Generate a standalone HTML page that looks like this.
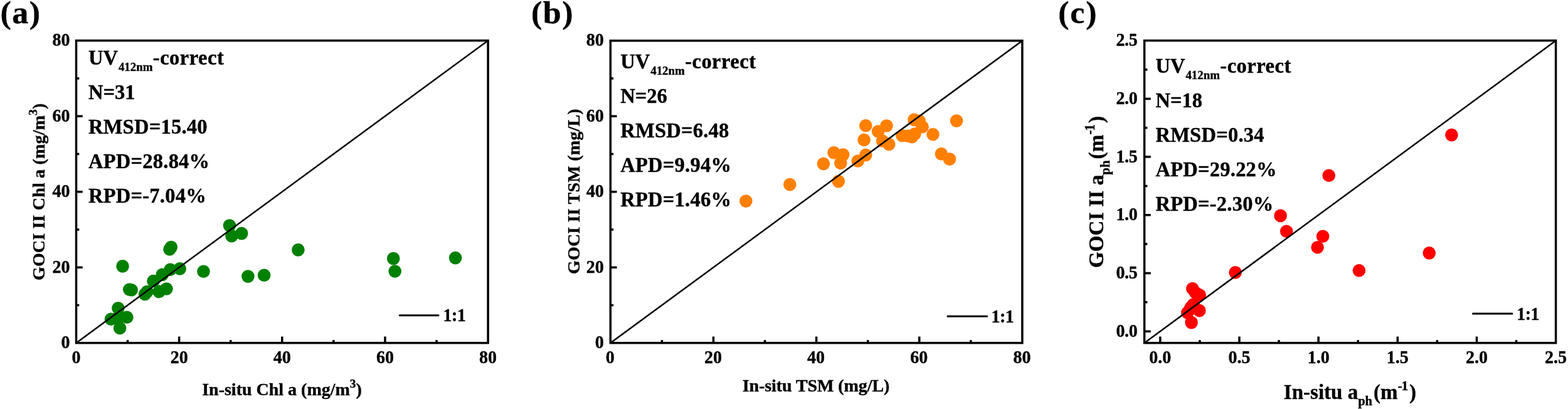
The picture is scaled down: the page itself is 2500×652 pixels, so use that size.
<!DOCTYPE html>
<html lang="en">
<head>
<meta charset="utf-8">
<title>GOCI II validation scatter plots</title>
<style>
html,body{margin:0;padding:0;background:#fff;}
body{width:2500px;height:652px;overflow:hidden;}
svg{display:block;}
text{font-family:"Liberation Serif", "Times New Roman", Times, serif;font-weight:bold;fill:#000;stroke:#000;stroke-width:0.4px;stroke-linejoin:round;}
.plabel{font-size:52px;}
.tl{font-size:28px;}
.at{font-size:28px;}
.ann{font-size:32.5px;}
.sub{font-size:58%;}
.sup{font-size:69%;}
.frame{fill:none;stroke:#000;stroke-width:3.5;}
.tick{fill:none;stroke:#000;stroke-width:3.5;}
.one{stroke:#000;stroke-width:2.5;}
.leg{stroke:#000;stroke-width:3;stroke-linecap:round;}
</style>
</head>
<body>
<svg width="2500" height="652" viewBox="0 0 2500 652">
<rect width="2500" height="652" fill="#fff"/>

<g class="panel" id="panel-a">
<text class="plabel" transform="translate(0.5 37.2) scale(1 0.96)" style="letter-spacing:1.5px;">(a)</text>
<g fill="#008000">
<circle cx="195.5" cy="424.4" r="10.3"/>
<circle cx="272.8" cy="394" r="10.3"/>
<circle cx="270.5" cy="397.4" r="10.3"/>
<circle cx="366" cy="359.6" r="10.3"/>
<circle cx="369.4" cy="376.1" r="10.3"/>
<circle cx="385.2" cy="372.1" r="10.3"/>
<circle cx="324.5" cy="432.8" r="10.3"/>
<circle cx="395.4" cy="440.6" r="10.3"/>
<circle cx="421.1" cy="438.8" r="10.3"/>
<circle cx="286.7" cy="428.4" r="10.3"/>
<circle cx="271.5" cy="429.8" r="10.3"/>
<circle cx="258.7" cy="437.9" r="10.3"/>
<circle cx="244.5" cy="448" r="10.3"/>
<circle cx="265.4" cy="460.5" r="10.3"/>
<circle cx="253.6" cy="464.9" r="10.3"/>
<circle cx="231" cy="469" r="10.3"/>
<circle cx="234.5" cy="465" r="10.3"/>
<circle cx="206.3" cy="461.5" r="10.3"/>
<circle cx="209.7" cy="462.2" r="10.3"/>
<circle cx="188.4" cy="491.2" r="10.3"/>
<circle cx="189" cy="506" r="10.3"/>
<circle cx="177" cy="508.8" r="10.3"/>
<circle cx="202.3" cy="505.7" r="10.3"/>
<circle cx="191.1" cy="523" r="10.3"/>
<circle cx="475.4" cy="398.4" r="10.3"/>
<circle cx="627.2" cy="412.1" r="10.3"/>
<circle cx="629.7" cy="432.5" r="10.3"/>
<circle cx="726.1" cy="411.1" r="10.3"/>
</g>
<line class="one" x1="121.5" y1="546.7" x2="778.1" y2="64.7"/>
<rect class="frame" x="121.5" y="64.7" width="656.6" height="482"/>
<path class="tick" d="M285.65 546.7v-10.2M449.8 546.7v-10.2M613.95 546.7v-10.2M203.57 546.7v-4.8M367.73 546.7v-4.8M531.88 546.7v-4.8M696.02 546.7v-4.8M121.5 426.2h10.2M121.5 305.7h10.2M121.5 185.2h10.2M121.5 486.45h4.8M121.5 365.95h4.8M121.5 245.45h4.8M121.5 124.95h4.8"/>
<text class="tl" text-anchor="middle" transform="translate(121.5 578.8) scale(1 1.04)">0</text>
<text class="tl" text-anchor="middle" transform="translate(285.65 578.8) scale(1 1.04)">20</text>
<text class="tl" text-anchor="middle" transform="translate(449.8 578.8) scale(1 1.04)">40</text>
<text class="tl" text-anchor="middle" transform="translate(613.95 578.8) scale(1 1.04)">60</text>
<text class="tl" text-anchor="middle" transform="translate(778.1 578.8) scale(1 1.04)">80</text>
<text class="tl" text-anchor="end" transform="translate(111.5 555.4) scale(1 1.04)">0</text>
<text class="tl" text-anchor="end" transform="translate(111.5 434.9) scale(1 1.04)">20</text>
<text class="tl" text-anchor="end" transform="translate(111.5 314.4) scale(1 1.04)">40</text>
<text class="tl" text-anchor="end" transform="translate(111.5 193.9) scale(1 1.04)">60</text>
<text class="tl" text-anchor="end" transform="translate(111.5 73.4) scale(1 1.04)">80</text>
<text class="at" text-anchor="middle" transform="translate(449.5 629.8)" style="font-size:28px;">In-situ Chl a (mg/m<tspan class="sup" dy="-12">3</tspan><tspan dy="12">)</tspan></text>
<text class="at" text-anchor="middle" transform="translate(71.3 305.8) rotate(-90)" style="letter-spacing:0.18px;font-size:28px;">GOCI II Chl a (mg/m<tspan class="sup" dy="-12">3</tspan><tspan dy="12">)</tspan></text>
<text class="ann" transform="translate(141 102.5) scale(1 1.04)">UV<tspan class="sub" dx="1" dy="10">412nm</tspan><tspan dx="0.5" dy="-10" style="letter-spacing:0.5px">-correct</tspan></text>
<text class="ann" transform="translate(141 157.5) scale(1 1.04)">N=31</text>
<text class="ann" transform="translate(141 212.5) scale(1 1.04)" style="letter-spacing:0.25px;">RMSD=15.40</text>
<text class="ann" transform="translate(141 267.5) scale(1 1.04)" style="letter-spacing:0.25px;">APD=28.84%</text>
<text class="ann" transform="translate(141 322.5) scale(1 1.04)" style="letter-spacing:0.25px;">RPD=-7.04%</text>
<line class="leg" x1="637.2" y1="502.8" x2="699" y2="502.8"/>
<text class="tl" transform="translate(706.4 512.2) scale(1 1.04)" style="letter-spacing:-0.5px;">1:1</text>
</g>
<g class="panel" id="panel-b">
<text class="plabel" transform="translate(847 37.2) scale(1 0.96)" style="letter-spacing:1.5px;">(b)</text>
<g fill="#ff8000">
<circle cx="1189.3" cy="320.6" r="10.3"/>
<circle cx="1259.3" cy="294.1" r="10.3"/>
<circle cx="1336.8" cy="289.1" r="10.3"/>
<circle cx="1312.9" cy="261.1" r="10.3"/>
<circle cx="1340.3" cy="260" r="10.3"/>
<circle cx="1329.5" cy="243.4" r="10.3"/>
<circle cx="1344.1" cy="246.6" r="10.3"/>
<circle cx="1367.7" cy="256.8" r="10.3"/>
<circle cx="1380.3" cy="247.1" r="10.3"/>
<circle cx="1377.6" cy="223" r="10.3"/>
<circle cx="1380.3" cy="200.2" r="10.3"/>
<circle cx="1400.1" cy="209.5" r="10.3"/>
<circle cx="1413.5" cy="200.5" r="10.3"/>
<circle cx="1407.1" cy="224.7" r="10.3"/>
<circle cx="1417.3" cy="230" r="10.3"/>
<circle cx="1438.5" cy="216.3" r="10.3"/>
<circle cx="1447.3" cy="216.8" r="10.3"/>
<circle cx="1454" cy="218.3" r="10.3"/>
<circle cx="1458.4" cy="213.6" r="10.3"/>
<circle cx="1457.5" cy="190.9" r="10.3"/>
<circle cx="1465.7" cy="192.9" r="10.3"/>
<circle cx="1470.6" cy="202.3" r="10.3"/>
<circle cx="1487.5" cy="214.2" r="10.3"/>
<circle cx="1525.1" cy="192.6" r="10.3"/>
<circle cx="1500.9" cy="245.4" r="10.3"/>
<circle cx="1514" cy="253.6" r="10.3"/>
</g>
<line class="one" x1="973.3" y1="546.7" x2="1629.9" y2="64.9"/>
<rect class="frame" x="973.3" y="64.9" width="656.6" height="481.8"/>
<path class="tick" d="M1137.45 546.7v-10.2M1301.6 546.7v-10.2M1465.75 546.7v-10.2M1055.38 546.7v-4.8M1219.53 546.7v-4.8M1383.68 546.7v-4.8M1547.83 546.7v-4.8M973.3 426.25h10.2M973.3 305.8h10.2M973.3 185.35h10.2M973.3 486.48h4.8M973.3 366.03h4.8M973.3 245.57h4.8M973.3 125.12h4.8"/>
<text class="tl" text-anchor="middle" transform="translate(972.8 578.8) scale(1 1.04)">0</text>
<text class="tl" text-anchor="middle" transform="translate(1136.95 578.8) scale(1 1.04)">20</text>
<text class="tl" text-anchor="middle" transform="translate(1301.1 578.8) scale(1 1.04)">40</text>
<text class="tl" text-anchor="middle" transform="translate(1465.25 578.8) scale(1 1.04)">60</text>
<text class="tl" text-anchor="middle" transform="translate(1629.4 578.8) scale(1 1.04)">80</text>
<text class="tl" text-anchor="end" transform="translate(962.7 555.2) scale(1 1.04)">0</text>
<text class="tl" text-anchor="end" transform="translate(962.7 434.75) scale(1 1.04)">20</text>
<text class="tl" text-anchor="end" transform="translate(962.7 314.3) scale(1 1.04)">40</text>
<text class="tl" text-anchor="end" transform="translate(962.7 193.85) scale(1 1.04)">60</text>
<text class="tl" text-anchor="end" transform="translate(962.7 73.4) scale(1 1.04)">80</text>
<text class="at" text-anchor="middle" transform="translate(1301 624.4)" style="letter-spacing:-0.07px;font-size:28px;">In-situ TSM (mg/L)</text>
<text class="at" text-anchor="middle" transform="translate(923.5 305.1) rotate(-90)" style="letter-spacing:0.22px;font-size:28px;">GOCI II TSM (mg/L)</text>
<text class="ann" transform="translate(989.3 108.8) scale(1 1.04)">UV<tspan class="sub" dx="1" dy="10">412nm</tspan><tspan dx="0.5" dy="-10" style="letter-spacing:0.5px">-correct</tspan></text>
<text class="ann" transform="translate(989.3 163.8) scale(1 1.04)">N=26</text>
<text class="ann" transform="translate(989.3 218.8) scale(1 1.04)" style="letter-spacing:0.25px;">RMSD=6.48</text>
<text class="ann" transform="translate(989.3 273.8) scale(1 1.04)" style="letter-spacing:0.25px;">APD=9.94%</text>
<text class="ann" transform="translate(989.3 328.8) scale(1 1.04)" style="letter-spacing:0.25px;">RPD=1.46%</text>
<line class="leg" x1="1511" y1="504.3" x2="1573.6" y2="504.3"/>
<text class="tl" transform="translate(1580.4 514.1) scale(1 1.04)" style="letter-spacing:-0.5px;">1:1</text>
</g>
<g class="panel" id="panel-c">
<text class="plabel" transform="translate(1687.2 37) scale(1 0.96)" style="letter-spacing:1.8px;">(c)</text>
<g fill="#ff0000">
<circle cx="2314.4" cy="215.1" r="10.3"/>
<circle cx="2118.7" cy="279.8" r="10.3"/>
<circle cx="2041.6" cy="343.9" r="10.3"/>
<circle cx="2051.2" cy="368.8" r="10.3"/>
<circle cx="2109.1" cy="376.8" r="10.3"/>
<circle cx="2100.6" cy="394.3" r="10.3"/>
<circle cx="2278.7" cy="403.4" r="10.3"/>
<circle cx="2166.9" cy="431.2" r="10.3"/>
<circle cx="1969.6" cy="434.4" r="10.3"/>
<circle cx="1901.3" cy="460.1" r="10.3"/>
<circle cx="1912.7" cy="470.3" r="10.3"/>
<circle cx="1902.8" cy="485.2" r="10.3"/>
<circle cx="1899" cy="489.9" r="10.3"/>
<circle cx="1893.3" cy="498.5" r="10.3"/>
<circle cx="1912.3" cy="495.1" r="10.3"/>
<circle cx="1899.6" cy="514.1" r="10.3"/>
<circle cx="1906" cy="466.5" r="10.3"/>
<circle cx="1897" cy="493.5" r="10.3"/>
</g>
<line class="one" x1="1824.6" y1="546.7" x2="2480.6" y2="64.7"/>
<rect class="frame" x="1824.6" y="64.7" width="656" height="482"/>
<path class="tick" d="M1849.83 546.7v-10.2M1975.98 546.7v-10.2M2102.14 546.7v-10.2M2228.29 546.7v-10.2M2354.45 546.7v-10.2M1912.91 546.7v-4.8M2039.06 546.7v-4.8M2165.22 546.7v-4.8M2291.37 546.7v-4.8M2417.52 546.7v-4.8M1824.6 528.16h10.2M1824.6 435.47h10.2M1824.6 342.78h10.2M1824.6 250.08h10.2M1824.6 157.39h10.2M1824.6 481.82h4.8M1824.6 389.12h4.8M1824.6 296.43h4.8M1824.6 203.74h4.8M1824.6 111.05h4.8"/>
<text class="tl" text-anchor="middle" transform="translate(1849.83 578.8) scale(1 1.04)">0.0</text>
<text class="tl" text-anchor="middle" transform="translate(1975.98 578.8) scale(1 1.04)">0.5</text>
<text class="tl" text-anchor="middle" transform="translate(2102.14 578.8) scale(1 1.04)">1.0</text>
<text class="tl" text-anchor="middle" transform="translate(2228.29 578.8) scale(1 1.04)">1.5</text>
<text class="tl" text-anchor="middle" transform="translate(2354.45 578.8) scale(1 1.04)">2.0</text>
<text class="tl" text-anchor="middle" transform="translate(2480.6 578.8) scale(1 1.04)">2.5</text>
<text class="tl" text-anchor="end" transform="translate(1813.3 536.86) scale(1 1.04)" style="letter-spacing:-0.4px;">0.0</text>
<text class="tl" text-anchor="end" transform="translate(1813.3 444.17) scale(1 1.04)" style="letter-spacing:-0.4px;">0.5</text>
<text class="tl" text-anchor="end" transform="translate(1813.3 351.48) scale(1 1.04)" style="letter-spacing:-0.4px;">1.0</text>
<text class="tl" text-anchor="end" transform="translate(1813.3 258.78) scale(1 1.04)" style="letter-spacing:-0.4px;">1.5</text>
<text class="tl" text-anchor="end" transform="translate(1813.3 166.09) scale(1 1.04)" style="letter-spacing:-0.4px;">2.0</text>
<text class="tl" text-anchor="end" transform="translate(1813.3 73.4) scale(1 1.04)" style="letter-spacing:-0.4px;">2.5</text>
<text class="at" text-anchor="middle" transform="translate(2152.4 635.5)" style="font-size:33px;">In-situ a<tspan style="font-size:20.5px" dy="10">ph</tspan><tspan dx="2" dy="-10">(m</tspan><tspan style="font-size:21.5px;letter-spacing:-1.2px" dx="0" dy="-13.3">-1</tspan><tspan dx="3" dy="13.3">)</tspan></text>
<text class="at" text-anchor="middle" transform="translate(1759 306) rotate(-90) scale(1 1.03)" style="letter-spacing:0.2px;font-size:33px;">GOCI II a<tspan style="font-size:20.5px" dy="10">ph</tspan><tspan dx="2" dy="-10">(m</tspan><tspan style="font-size:21.5px;letter-spacing:-1.2px" dx="0" dy="-13.3">-1</tspan><tspan dx="3" dy="13.3">)</tspan></text>
<text class="ann" transform="translate(1842.5 115.6) scale(1 1.04)">UV<tspan class="sub" dx="1" dy="10">412nm</tspan><tspan dx="0.5" dy="-10" style="letter-spacing:0.5px">-correct</tspan></text>
<text class="ann" transform="translate(1842.5 170.6) scale(1 1.04)">N=18</text>
<text class="ann" transform="translate(1842.5 225.6) scale(1 1.04)" style="letter-spacing:0.25px;">RMSD=0.34</text>
<text class="ann" transform="translate(1842.5 280.6) scale(1 1.04)" style="letter-spacing:0.25px;">APD=29.22%</text>
<text class="ann" transform="translate(1842.5 335.6) scale(1 1.04)" style="letter-spacing:0.25px;">RPD=-2.30%</text>
<line class="leg" x1="2348.5" y1="500" x2="2411" y2="500"/>
<text class="tl" transform="translate(2418.3 509.9) scale(1 1.04)" style="letter-spacing:-0.5px;">1:1</text>
</g>
</svg>
</body>
</html>
